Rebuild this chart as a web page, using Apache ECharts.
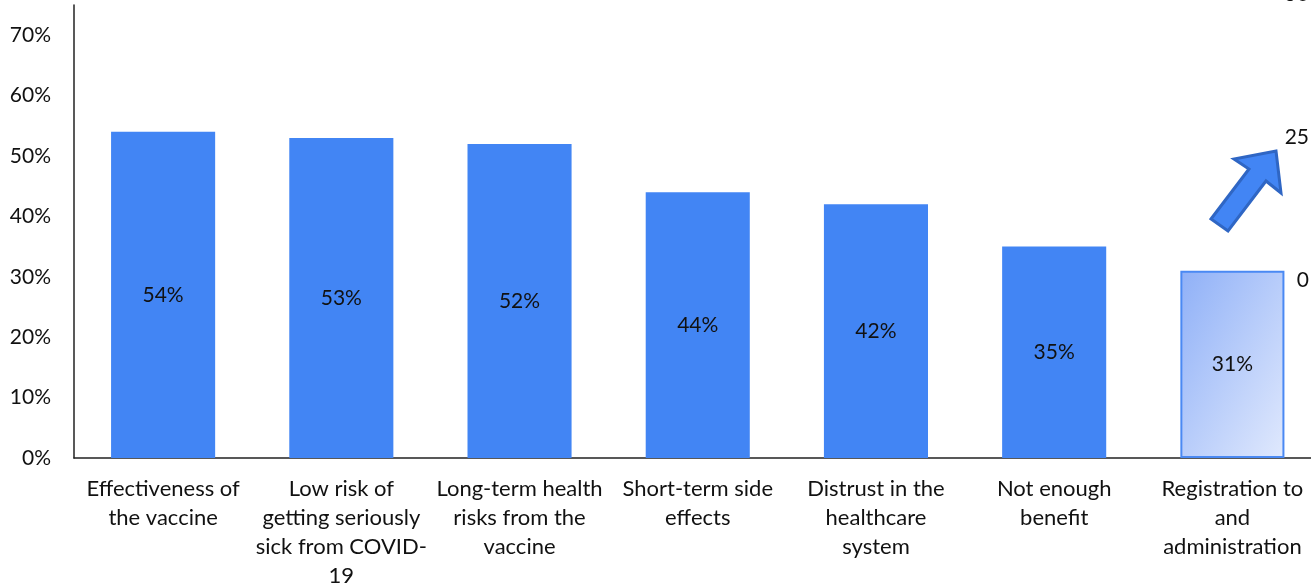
<!DOCTYPE html>
<html>
<head>
<meta charset="utf-8">
<script src="https://cdn.jsdelivr.net/npm/echarts@6/dist/echarts.min.js"></script>
<style>
  html, body { margin: 0; padding: 0; background: #fff; }
  #chart { width: 1311px; height: 586px; }
</style>
</head>
<body>
<div id="chart"></div>
<script>
// Reasons given, share of respondents (%)
const categories = [
  'Effectiveness of\nthe vaccine',
  'Low risk of\ngetting seriously\nsick from COVID-\n19',
  'Long-term health\nrisks from the\nvaccine',
  'Short-term side\neffects',
  'Distrust in the\nhealthcare\nsystem',
  'Not enough\nbenefit',
  'Registration to\nand\nadministration'
];
const values = [54, 53, 52, 44, 42, 35, 31];
const highlightIndex = 6;           // bar drawn with the soft gradient
const leftTicks = [0, 10, 20, 30, 40, 50, 60, 70];
const rightTicks = [0, 25, 50];

const FONT = 'Lato, "Open Sans", sans-serif';
const BLUE = '#4285f4';

const seriesData = values.map((v, i) => {
  if (i !== highlightIndex) return v;
  return {
    value: v,
    itemStyle: {
      // light wash running from the top-left corner towards the lower right
      color: new echarts.graphic.LinearGradient(0, 0, 1.5, 0.47, [
        { offset: 0, color: '#8fb0f7' },
        { offset: 1, color: '#dfe8fd' }
      ]),
      borderColor: '#4a89f3',
      borderWidth: 2
    }
  };
});

const chart = echarts.init(document.getElementById('chart'), null, { renderer: 'canvas' });

chart.setOption({
  animation: false,
  backgroundColor: '#fff',
  grid: [
    { left: 74, right: -10.5, top: 5, bottom: 128, containLabel: false, outerBoundsMode: 'none' },
    { left: 1200, right: 2, top: -6, bottom: 306, containLabel: false, outerBoundsMode: 'none' }
  ],
  xAxis: [
    {
      type: 'category',
      gridIndex: 0,
      data: categories,
      axisLine: { show: true, lineStyle: { color: '#222', width: 1.5 } },
      axisTick: { show: false },
      axisLabel: {
        interval: 0,
        margin: 16,
        color: '#111',
        fontFamily: FONT,
        fontSize: 22,
        lineHeight: 29,
        align: 'center'
      }
    },
    { type: 'value', gridIndex: 1, show: false, min: 0, max: 1 }
  ],
  yAxis: [
    {
      type: 'value',
      gridIndex: 0,
      min: 0,
      max: 75,
      interval: 10,
      axisLine: { show: true, lineStyle: { color: '#222', width: 1.5 } },
      axisTick: { show: false },
      splitLine: { show: false },
      axisLabel: {
        margin: 23,
        color: '#111',
        fontFamily: FONT,
        fontSize: 21,
        showMaxLabel: false,
        formatter: v => (leftTicks.includes(v) ? v + '%' : '')
      }
    },
    {
      type: 'value',
      gridIndex: 1,
      position: 'right',
      min: rightTicks[0],
      max: rightTicks[rightTicks.length - 1],
      interval: 25,
      axisLine: { show: false },
      axisTick: { show: false },
      splitLine: { show: false },
      axisLabel: {
        inside: true,
        margin: 0,
        color: '#111',
        fontFamily: FONT,
        fontSize: 21
      }
    }
  ],
  series: [
    {
      type: 'bar',
      xAxisIndex: 0,
      yAxisIndex: 0,
      data: seriesData,
      barWidth: '58.4%',
      itemStyle: { color: BLUE },
      label: {
        show: true,
        position: 'inside',
        formatter: p => p.value + '%',
        color: '#111',
        fontFamily: FONT,
        fontSize: 21
      }
    }
  ],
  graphic: [
    {
      type: 'polygon',
      z: 100,
      shape: {
        points: [
          [1276, 151], [1281, 193], [1266, 181], [1228, 231],
          [1211, 219], [1249, 169], [1234, 159]
        ]
      },
      style: { fill: BLUE, stroke: '#2f66c4', lineWidth: 3, lineJoin: 'miter' }
    }
  ]
});
</script>
</body>
</html>
